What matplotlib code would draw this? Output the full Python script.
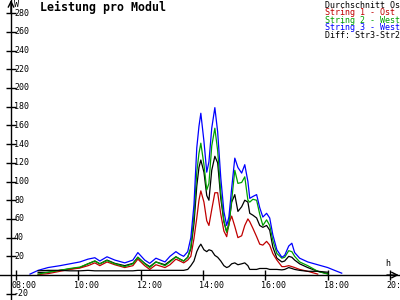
import numpy as np
import matplotlib
matplotlib.use("Agg")
import matplotlib.pyplot as plt

# time in decimal hours
t = [8.45, 8.71, 9.03, 9.41, 9.73, 10.05, 10.31, 10.53, 10.69, 10.92,
     11.17, 11.49, 11.75, 11.91, 12.13, 12.29, 12.49, 12.78, 12.94, 13.13,
     13.26, 13.38, 13.51, 13.61, 13.71, 13.80, 13.87, 13.93, 14.03, 14.12,
     14.19, 14.28, 14.38, 14.47, 14.57, 14.67, 14.76, 14.83, 14.92, 15.02,
     15.12, 15.24, 15.34, 15.44, 15.50, 15.60, 15.72, 15.82, 15.92, 16.04,
     16.14, 16.24, 16.37, 16.53, 16.62, 16.75, 16.85, 16.94, 17.10, 17.36,
     17.68, 18.00, 18.22, 18.45]
nan = np.nan
string3 = [1, 5, 8, 10, 12, 14, 17, 18.5, 15, 19.5,
           16, 13, 16, 24, 16, 12.5, 18, 14, 20, 25,
           22, 20, 25, 40, 75, 136, 159, 173, 143, 110,
           121, 157, 179, 153, 104, 68, 53, 62, 93, 125,
           115, 109, 118, 100, 82, 84, 86, 72, 62, 66,
           61, 43, 27, 19, 21, 31, 34, 24, 18, 14,
           11, 8, 5, 2]
string2 = [nan, 1, 3, 5, 7, 8.5, 12, 15, 12, 15.5,
           12, 9, 12, 19, 12, 8, 14, 10, 14, 19.5,
           17, 15, 19, 30, 64, 110, 130, 141, 118, 91,
           98, 138, 157, 133, 88, 58, 46, 53, 80, 112,
           98, 99, 105, 80, 78, 81, 80, 65, 53, 59,
           53, 37, 23, 18, 19, 26, 25, 20, 14, 10,
           4, 1, nan, nan]
string1 = [nan, 0.5, 1.5, 4, 6, 7.5, 10, 13, 10, 14,
           11, 8, 10, 17, 10, 6, 11, 8, 11, 17,
           15, 13, 16, 20, 39, 61, 80, 90, 78, 58,
           53, 70, 88, 88, 65, 47, 41, 55, 63, 52,
           40, 42, 53, 60, 57, 50, 41, 33, 32, 36,
           32, 23, 16, 9, 9, 10, 9, 8, 6, 4,
           1, nan, nan, nan]
mittel = [nan, 2.5, 3, 5, 6.5, 8, 12, 15, 12, 16,
          12.5, 10, 12.5, 19, 12.5, 9, 14, 11, 15, 19.5,
          17, 15, 19, 28, 55, 95, 115, 123, 110, 85,
          80, 112, 127, 120, 82, 57, 46, 55, 78, 86,
          68, 73, 80, 78, 66, 64, 61, 53, 51, 53,
          48, 30, 18, 14, 15, 20, 19, 16, 12, 8,
          4, 1.5, nan, nan]
diff = [nan, 4.5, 5, 5, 4.5, 4.5, 5, 4.5, 4.5, 4.5,
        4.5, 4.5, 4.5, 5, 5, 5, 5, 5, 5, 5,
        5, 5, 6, 10, 15, 25, 30, 33, 27, 25,
        27, 26, 21, 19, 15, 10, 8, 9, 12, 13,
        11, 12, 13, 10, 6, 6, 6, 7, 7, 7,
        6, 6, 6, 5.5, 6, 8, 7, 6, 5, 4,
        4, 3, nan, nan]

series = [("Durchschnitt Ost", mittel, "#000000"),
          ("String 1 - Ost", string1, "#c00000"),
          ("String 2 - West", string2, "#00a000"),
          ("String 3 - West", string3, "#0000ff"),
          ("Diff: Str3-Str2", diff, "#000000")]

xticks = [8, 10, 12, 14, 16, 18, 20]
xlabels = ["08:00", "10:00", "12:00", "14:00", "16:00", "18:00", "20:00"]
yticks = [-20, 20, 40, 60, 80, 100, 120, 140, 160, 180, 200, 220, 240, 260, 280]

plt.rcParams['font.family'] = ['DejaVu Sans Mono']
fig = plt.figure(figsize=(4, 3), dpi=100)
fig.patch.set_facecolor("white")
ax = fig.add_axes([0, 0, 1, 1])
ax.set_xlim(7.487, 20.32)
ax.set_ylim(-26.7, 294.1)
yaxis_x = 7.84

for name, vals, col in series:
    ax.plot(t, vals, color=col, lw=0.9)

# axes
for s in ["top", "right"]:
    ax.spines[s].set_visible(False)
ax.spines["left"].set_position(("data", yaxis_x))
ax.spines["bottom"].set_position(("data", 0))
ax.spines["left"].set_linewidth(1)
ax.spines["bottom"].set_linewidth(1)
ax.set_xticks(xticks)
ax.set_yticks(yticks)
ax.set_xticklabels([])
ax.set_yticklabels([])
ax.tick_params(direction="inout", length=7, width=1)
ax.annotate("", xy=(yaxis_x, 294), xytext=(yaxis_x, 280),
            arrowprops=dict(arrowstyle="->", lw=1, color="black",
                            shrinkA=0, shrinkB=0))
ax.annotate("", xy=(20.28, 0), xytext=(19.9, 0),
            arrowprops=dict(arrowstyle="->", lw=1, color="black",
                            shrinkA=0, shrinkB=0))

for v in yticks:
    ax.annotate(str(v), xy=(yaxis_x, v), xytext=(3, 0), textcoords="offset pixels",
                ha="left", va="center", fontsize=6)
for xv, lab in zip(xticks, xlabels):
    ax.annotate(lab, xy=(xv, 0), xytext=(-4, -6), textcoords="offset pixels",
                ha="left", va="top", fontsize=6)
ax.annotate("W", xy=(yaxis_x, 294), xytext=(3, -4), textcoords="offset pixels",
            ha="left", va="center", fontsize=6)
ax.annotate("h", xy=(20, 0), xytext=(-5, 12), textcoords="offset pixels",
            ha="left", va="center", fontsize=6)

fig.text(40 / 400, 1 - 7 / 300, "Leistung pro Modul", fontsize=8.4,
         fontweight="bold", ha="left", va="center")
for i, (name, vals, col) in enumerate(series):
    fig.text(325 / 400, 1 - (5 + 7.6 * i) / 300, name, color=col,
             fontsize=6, ha="left", va="center")

fig.savefig("out.png", dpi=100, facecolor="white")
